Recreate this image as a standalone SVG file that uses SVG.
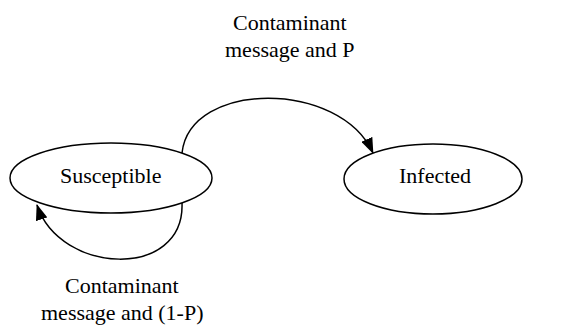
<svg xmlns="http://www.w3.org/2000/svg" width="561" height="327" viewBox="0 0 561 327">
<style>
.node{stroke:#000;stroke-width:1.5}
.edge{fill:none;stroke:#000;stroke-width:1.5}
</style>
<defs>
<marker id="arr" viewBox="0 0 16 12" refX="15" refY="6" markerWidth="16" markerHeight="12" markerUnits="userSpaceOnUse" orient="auto">
<path d="M0,0 L16,6 L0,12 Z" fill="#000"/>
</marker>
</defs>
<rect width="561" height="327" fill="#fff"/>
<g id="connectors">
<path class="edge" d="M182,153 C190,80 340,80 373,153" marker-end="url(#arr)"/>
<path class="edge" d="M182,203 C185,280 60,275 37,205" marker-end="url(#arr)"/>
<text x="233" y="30" font-family="Liberation Serif" font-size="22" style="font-family:'Liberation Serif',serif;font-size:22px">Contaminant</text>
<text x="225" y="57" font-family="Liberation Serif" font-size="22" style="font-family:'Liberation Serif',serif;font-size:22px">message and P</text>
<text x="65" y="293" font-family="Liberation Serif" font-size="22" style="font-family:'Liberation Serif',serif;font-size:22px">Contaminant</text>
<text x="41" y="320" font-family="Liberation Serif" font-size="22" style="font-family:'Liberation Serif',serif;font-size:22px">message and (1-P)</text>
</g>
<g id="susceptible">
<ellipse class="node" cx="111" cy="178" rx="101" ry="35" fill="none"/>
<text x="60" y="183" font-family="Liberation Serif" font-size="22" style="font-family:'Liberation Serif',serif;font-size:22px">Susceptible</text>
</g>
<g id="infected">
<ellipse class="node" cx="433" cy="179" rx="89" ry="35" fill="#fff"/>
<text x="399" y="183" font-family="Liberation Serif" font-size="22" style="font-family:'Liberation Serif',serif;font-size:22px">Infected</text>
</g>
</svg>
